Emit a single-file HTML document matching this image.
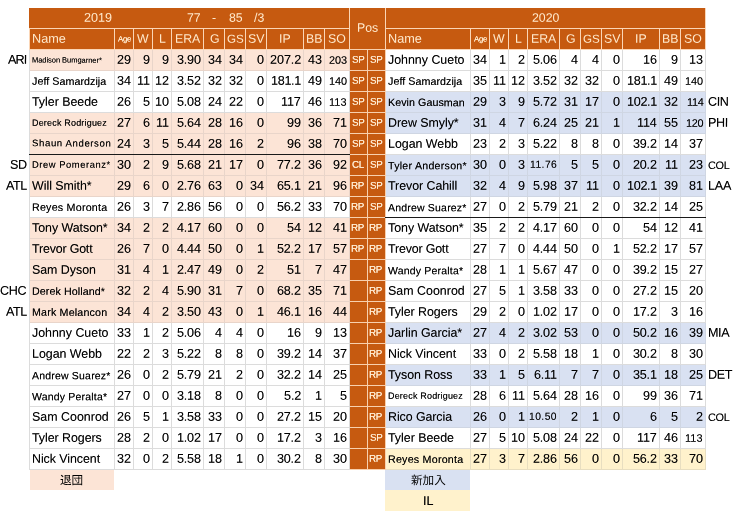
<!DOCTYPE html>
<html lang="en"><head><meta charset="utf-8"><title>Giants pitching staff 2019 / 2020</title>
<style>
html,body{margin:0;padding:0;background:#fff;}
body{width:733px;height:517px;overflow:hidden;position:relative;font-family:"Liberation Sans","Noto Sans CJK JP",sans-serif;font-size:12.6px;color:#000;}
#grid{position:absolute;left:29px;top:49px;width:677px;height:421px;background:#dcdcdc;}
#hgrid{position:absolute;left:29px;top:8px;width:677px;height:42px;background:#fbd6b6;}
#pgrid{position:absolute;left:349px;top:49px;width:37px;height:421px;background:#f8d0ae;}
#s div{position:absolute;box-sizing:border-box;height:20px;line-height:20px;white-space:nowrap;overflow:visible;}
.fw{background:#fff;box-shadow:1px 0 0 #dcdcdc,0 1px 0 #dcdcdc,1px 1px 0 #dcdcdc;}
.fp{background:#FCE4D6;box-shadow:1px 0 0 #e9d5ca,0 1px 0 #e9d5ca,1px 1px 0 #e9d5ca;}
.fb{background:#D9E1F2;box-shadow:1px 0 0 #cfd6e3,0 1px 0 #cfd6e3,1px 1px 0 #cfd6e3;}
.fy{background:#FFF2CC;box-shadow:1px 0 0 #e8dec0,0 1px 0 #e8dec0,1px 1px 0 #e8dec0;}
.fo{background:#C65A10;}
.l{text-align:left;padding-left:2.3px;}
.r{text-align:right;padding-right:2px;}
.t{letter-spacing:-0.4px;}
.d,.t{text-shadow:0 0 0.6px rgba(0,0,0,0.45);}
.k{text-shadow:0 0 0.6px rgba(0,0,0,0.6);}
.u{display:inline-block;transform:translateY(-0.3px) rotate(.1deg);}
.c{text-align:center;}
.h{color:#ffe9cc;font-size:12.3px;}
.p{text-shadow:0 0 0.5px #ffecd2;color:#ffecd2;font-size:9.8px;letter-spacing:-0.3px;padding-right:1.2px;}
.j{font-size:11.6px;font-weight:400;text-shadow:none;}
</style></head>
<body>
<div id="grid"></div><div id="hgrid"></div><div id="pgrid"></div>
<div id="s">
<div class="fo" style="left:29px;top:8px;width:320px;"></div>
<div class="fo" style="left:386px;top:8px;width:319px;"></div>
<div class="c h fo" style="left:350px;top:8px;width:35px;height:41px;line-height:41px;"><span class="u">Pos</span></div>
<div class="c h" style="left:29px;top:8px;width:138px;font-size:12.6px;"><span class="u">2019</span></div>
<div class="r h" style="left:172px;top:8px;width:31px;"><span class="u">77</span></div>
<div class="c h" style="left:204px;top:8px;width:20px;"><span class="u">-</span></div>
<div class="r h" style="left:225px;top:8px;width:20px;"><span class="u">85</span></div>
<div class="r h" style="left:246px;top:8px;width:20px;"><span class="u">/3</span></div>
<div class="c h" style="left:386px;top:8px;width:319px;"><span class="u">2020</span></div>
<div class="l h fo" style="left:30px;top:29px;width:84px;font-size:12.7px;"><span class="u">Name</span></div>
<div class="c h fo" style="left:115px;top:29px;width:18px;font-size:7.8px;padding-left:1.4px;letter-spacing:-0.25px;text-shadow:0 0 0.5px #ffe9cc;"><span class="u" style="transform:translateY(0.40px) rotate(.1deg)">Age</span></div>
<div class="c h fo" style="left:134px;top:29px;width:18px;padding-left:0.6px;"><span class="u">W</span></div>
<div class="c h fo" style="left:153px;top:29px;width:18px;padding-left:0.6px;"><span class="u">L</span></div>
<div class="c h fo" style="left:172px;top:29px;width:31px;padding-left:0.6px;"><span class="u">ERA</span></div>
<div class="c h fo" style="left:204px;top:29px;width:20px;padding-left:0.6px;"><span class="u">G</span></div>
<div class="c h fo" style="left:225px;top:29px;width:20px;font-size:11.6px;padding-left:0.6px;"><span class="u">GS</span></div>
<div class="c h fo" style="left:246px;top:29px;width:20px;padding-left:0.6px;"><span class="u">SV</span></div>
<div class="c h fo" style="left:267px;top:29px;width:36px;padding-left:0.6px;"><span class="u">IP</span></div>
<div class="c h fo" style="left:304px;top:29px;width:20px;padding-left:0.6px;"><span class="u">BB</span></div>
<div class="c h fo" style="left:325px;top:29px;width:24px;padding-left:0.6px;"><span class="u">SO</span></div>
<div class="l h fo" style="left:386px;top:29px;width:84px;font-size:12.7px;"><span class="u">Name</span></div>
<div class="c h fo" style="left:471px;top:29px;width:18px;font-size:7.8px;padding-left:1.4px;letter-spacing:-0.25px;text-shadow:0 0 0.5px #ffe9cc;"><span class="u" style="transform:translateY(0.40px) rotate(.1deg)">Age</span></div>
<div class="c h fo" style="left:490px;top:29px;width:18px;padding-left:0.6px;"><span class="u">W</span></div>
<div class="c h fo" style="left:509px;top:29px;width:18px;padding-left:0.6px;"><span class="u">L</span></div>
<div class="c h fo" style="left:528px;top:29px;width:31px;padding-left:0.6px;"><span class="u">ERA</span></div>
<div class="c h fo" style="left:560px;top:29px;width:20px;padding-left:0.6px;"><span class="u">G</span></div>
<div class="c h fo" style="left:581px;top:29px;width:20px;font-size:11.6px;padding-left:0.6px;"><span class="u">GS</span></div>
<div class="c h fo" style="left:602px;top:29px;width:20px;padding-left:0.6px;"><span class="u">SV</span></div>
<div class="c h fo" style="left:623px;top:29px;width:36px;padding-left:0.6px;"><span class="u">IP</span></div>
<div class="c h fo" style="left:660px;top:29px;width:20px;padding-left:0.6px;"><span class="u">BB</span></div>
<div class="c h fo" style="left:681px;top:29px;width:24px;padding-left:0.6px;"><span class="u">SO</span></div>
<div class="r t" style="left:0px;top:50px;width:26.1px;letter-spacing:-0.900px;padding-right:0;"><span class="u">ARI</span></div>
<div class="l d k fp" style="left:30px;top:50px;width:84px;font-size:7.5px;letter-spacing:-0.038px;"><span class="u" style="transform:translateY(0.60px) rotate(.1deg)">Madison Bumgarner*</span></div>
<div class="r d fp" style="left:115px;top:50px;width:18px;letter-spacing:-0.120px;"><span class="u">29</span></div>
<div class="r d fp" style="left:134px;top:50px;width:18px;"><span class="u">9</span></div>
<div class="r d fp" style="left:153px;top:50px;width:18px;"><span class="u">9</span></div>
<div class="r d fp" style="left:172px;top:50px;width:31px;letter-spacing:-0.200px;"><span class="u">3.90</span></div>
<div class="r d fp" style="left:204px;top:50px;width:20px;letter-spacing:-0.120px;"><span class="u">34</span></div>
<div class="r d fp" style="left:225px;top:50px;width:20px;letter-spacing:-0.120px;"><span class="u">34</span></div>
<div class="r d fp" style="left:246px;top:50px;width:20px;"><span class="u">0</span></div>
<div class="r d fp" style="left:267px;top:50px;width:36px;letter-spacing:-0.050px;"><span class="u">207.2</span></div>
<div class="r d fp" style="left:304px;top:50px;width:20px;letter-spacing:-0.120px;"><span class="u">43</span></div>
<div class="r d fp" style="left:325px;top:50px;width:24px;font-size:10.9px;letter-spacing:0.000px;"><span class="u">203</span></div>
<div class="c p fo" style="left:350px;top:50px;width:17px;"><span class="u" style="transform:translateY(-0.20px) rotate(.1deg)">SP</span></div>
<div class="c p fo" style="left:368px;top:50px;width:17px;"><span class="u" style="transform:translateY(-0.20px) rotate(.1deg)">SP</span></div>
<div class="l d fw" style="left:386px;top:50px;width:84px;font-size:12.4px;letter-spacing:0.003px;"><span class="u">Johnny Cueto</span></div>
<div class="r d fw" style="left:471px;top:50px;width:18px;letter-spacing:-0.120px;"><span class="u">34</span></div>
<div class="r d fw" style="left:490px;top:50px;width:18px;"><span class="u">1</span></div>
<div class="r d fw" style="left:509px;top:50px;width:18px;"><span class="u">2</span></div>
<div class="r d fw" style="left:528px;top:50px;width:31px;letter-spacing:-0.200px;"><span class="u">5.06</span></div>
<div class="r d fw" style="left:560px;top:50px;width:20px;"><span class="u">4</span></div>
<div class="r d fw" style="left:581px;top:50px;width:20px;"><span class="u">4</span></div>
<div class="r d fw" style="left:602px;top:50px;width:20px;"><span class="u">0</span></div>
<div class="r d fw" style="left:623px;top:50px;width:36px;letter-spacing:-0.120px;"><span class="u">16</span></div>
<div class="r d fw" style="left:660px;top:50px;width:20px;"><span class="u">9</span></div>
<div class="r d fw" style="left:681px;top:50px;width:24px;letter-spacing:-0.120px;"><span class="u">13</span></div>
<div class="l d k fw" style="left:30px;top:71px;width:84px;font-size:10.7px;letter-spacing:0.052px;"><span class="u" style="transform:translateY(-0.10px) rotate(.1deg)">Jeff Samardzija</span></div>
<div class="r d fw" style="left:115px;top:71px;width:18px;letter-spacing:-0.120px;"><span class="u">34</span></div>
<div class="r d fw" style="left:134px;top:71px;width:18px;letter-spacing:-0.120px;"><span class="u">11</span></div>
<div class="r d fw" style="left:153px;top:71px;width:18px;letter-spacing:-0.120px;"><span class="u">12</span></div>
<div class="r d fw" style="left:172px;top:71px;width:31px;letter-spacing:-0.200px;"><span class="u">3.52</span></div>
<div class="r d fw" style="left:204px;top:71px;width:20px;letter-spacing:-0.120px;"><span class="u">32</span></div>
<div class="r d fw" style="left:225px;top:71px;width:20px;letter-spacing:-0.120px;"><span class="u">32</span></div>
<div class="r d fw" style="left:246px;top:71px;width:20px;"><span class="u">0</span></div>
<div class="r d fw" style="left:267px;top:71px;width:36px;letter-spacing:-0.300px;"><span class="u">181.1</span></div>
<div class="r d fw" style="left:304px;top:71px;width:20px;letter-spacing:-0.120px;"><span class="u">49</span></div>
<div class="r d fw" style="left:325px;top:71px;width:24px;font-size:10.9px;letter-spacing:0.000px;"><span class="u">140</span></div>
<div class="c p fo" style="left:350px;top:71px;width:17px;"><span class="u" style="transform:translateY(-0.20px) rotate(.1deg)">SP</span></div>
<div class="c p fo" style="left:368px;top:71px;width:17px;"><span class="u" style="transform:translateY(-0.20px) rotate(.1deg)">SP</span></div>
<div class="l d k fw" style="left:386px;top:71px;width:84px;font-size:10.7px;letter-spacing:0.052px;"><span class="u" style="transform:translateY(-0.10px) rotate(.1deg)">Jeff Samardzija</span></div>
<div class="r d fw" style="left:471px;top:71px;width:18px;letter-spacing:-0.120px;"><span class="u">35</span></div>
<div class="r d fw" style="left:490px;top:71px;width:18px;letter-spacing:-0.120px;"><span class="u">11</span></div>
<div class="r d fw" style="left:509px;top:71px;width:18px;letter-spacing:-0.120px;"><span class="u">12</span></div>
<div class="r d fw" style="left:528px;top:71px;width:31px;letter-spacing:-0.200px;"><span class="u">3.52</span></div>
<div class="r d fw" style="left:560px;top:71px;width:20px;letter-spacing:-0.120px;"><span class="u">32</span></div>
<div class="r d fw" style="left:581px;top:71px;width:20px;letter-spacing:-0.120px;"><span class="u">32</span></div>
<div class="r d fw" style="left:602px;top:71px;width:20px;"><span class="u">0</span></div>
<div class="r d fw" style="left:623px;top:71px;width:36px;letter-spacing:-0.300px;"><span class="u">181.1</span></div>
<div class="r d fw" style="left:660px;top:71px;width:20px;letter-spacing:-0.120px;"><span class="u">49</span></div>
<div class="r d fw" style="left:681px;top:71px;width:24px;font-size:10.9px;letter-spacing:0.000px;"><span class="u">140</span></div>
<div class="l d fw" style="left:30px;top:92px;width:84px;font-size:12.4px;letter-spacing:-0.013px;"><span class="u">Tyler Beede</span></div>
<div class="r d fw" style="left:115px;top:92px;width:18px;letter-spacing:-0.120px;"><span class="u">26</span></div>
<div class="r d fw" style="left:134px;top:92px;width:18px;"><span class="u">5</span></div>
<div class="r d fw" style="left:153px;top:92px;width:18px;letter-spacing:-0.120px;"><span class="u">10</span></div>
<div class="r d fw" style="left:172px;top:92px;width:31px;letter-spacing:-0.200px;"><span class="u">5.08</span></div>
<div class="r d fw" style="left:204px;top:92px;width:20px;letter-spacing:-0.120px;"><span class="u">24</span></div>
<div class="r d fw" style="left:225px;top:92px;width:20px;letter-spacing:-0.120px;"><span class="u">22</span></div>
<div class="r d fw" style="left:246px;top:92px;width:20px;"><span class="u">0</span></div>
<div class="r d fw" style="left:267px;top:92px;width:36px;letter-spacing:-0.120px;"><span class="u">117</span></div>
<div class="r d fw" style="left:304px;top:92px;width:20px;letter-spacing:-0.120px;"><span class="u">46</span></div>
<div class="r d fw" style="left:325px;top:92px;width:24px;font-size:10.9px;letter-spacing:0.100px;"><span class="u">113</span></div>
<div class="c p fo" style="left:350px;top:92px;width:17px;"><span class="u" style="transform:translateY(-0.20px) rotate(.1deg)">SP</span></div>
<div class="c p fo" style="left:368px;top:92px;width:17px;"><span class="u" style="transform:translateY(-0.20px) rotate(.1deg)">SP</span></div>
<div class="l d k fb" style="left:386px;top:92px;width:84px;font-size:10.7px;letter-spacing:0.063px;"><span class="u" style="transform:translateY(0.10px) rotate(.1deg)">Kevin Gausman</span></div>
<div class="r d fb" style="left:471px;top:92px;width:18px;letter-spacing:-0.120px;"><span class="u">29</span></div>
<div class="r d fb" style="left:490px;top:92px;width:18px;"><span class="u">3</span></div>
<div class="r d fb" style="left:509px;top:92px;width:18px;"><span class="u">9</span></div>
<div class="r d fb" style="left:528px;top:92px;width:31px;letter-spacing:-0.200px;"><span class="u">5.72</span></div>
<div class="r d fb" style="left:560px;top:92px;width:20px;letter-spacing:-0.120px;"><span class="u">31</span></div>
<div class="r d fb" style="left:581px;top:92px;width:20px;letter-spacing:-0.120px;"><span class="u">17</span></div>
<div class="r d fb" style="left:602px;top:92px;width:20px;"><span class="u">0</span></div>
<div class="r d fb" style="left:623px;top:92px;width:36px;letter-spacing:-0.300px;"><span class="u">102.1</span></div>
<div class="r d fb" style="left:660px;top:92px;width:20px;letter-spacing:-0.120px;"><span class="u">32</span></div>
<div class="r d fb" style="left:681px;top:92px;width:24px;font-size:10.9px;letter-spacing:-0.300px;"><span class="u">114</span></div>
<div class="l t" style="left:708.3px;top:92px;width:26px;padding-left:0;"><span class="u">CIN</span></div>
<div class="l d k fp" style="left:30px;top:113px;width:84px;font-size:9.0px;letter-spacing:0.185px;"><span class="u">Dereck Rodriguez</span></div>
<div class="r d fp" style="left:115px;top:113px;width:18px;letter-spacing:-0.120px;"><span class="u">27</span></div>
<div class="r d fp" style="left:134px;top:113px;width:18px;"><span class="u">6</span></div>
<div class="r d fp" style="left:153px;top:113px;width:18px;letter-spacing:-0.120px;"><span class="u">11</span></div>
<div class="r d fp" style="left:172px;top:113px;width:31px;letter-spacing:-0.200px;"><span class="u">5.64</span></div>
<div class="r d fp" style="left:204px;top:113px;width:20px;letter-spacing:-0.120px;"><span class="u">28</span></div>
<div class="r d fp" style="left:225px;top:113px;width:20px;letter-spacing:-0.120px;"><span class="u">16</span></div>
<div class="r d fp" style="left:246px;top:113px;width:20px;"><span class="u">0</span></div>
<div class="r d fp" style="left:267px;top:113px;width:36px;letter-spacing:-0.120px;"><span class="u">99</span></div>
<div class="r d fp" style="left:304px;top:113px;width:20px;letter-spacing:-0.120px;"><span class="u">36</span></div>
<div class="r d fp" style="left:325px;top:113px;width:24px;letter-spacing:-0.120px;"><span class="u">71</span></div>
<div class="c p fo" style="left:350px;top:113px;width:17px;"><span class="u" style="transform:translateY(-0.20px) rotate(.1deg)">SP</span></div>
<div class="c p fo" style="left:368px;top:113px;width:17px;"><span class="u" style="transform:translateY(-0.20px) rotate(.1deg)">SP</span></div>
<div class="l d fb" style="left:386px;top:113px;width:84px;font-size:12.4px;letter-spacing:-0.022px;"><span class="u">Drew Smyly*</span></div>
<div class="r d fb" style="left:471px;top:113px;width:18px;letter-spacing:-0.120px;"><span class="u">31</span></div>
<div class="r d fb" style="left:490px;top:113px;width:18px;"><span class="u">4</span></div>
<div class="r d fb" style="left:509px;top:113px;width:18px;"><span class="u">7</span></div>
<div class="r d fb" style="left:528px;top:113px;width:31px;letter-spacing:-0.200px;"><span class="u">6.24</span></div>
<div class="r d fb" style="left:560px;top:113px;width:20px;letter-spacing:-0.120px;"><span class="u">25</span></div>
<div class="r d fb" style="left:581px;top:113px;width:20px;letter-spacing:-0.120px;"><span class="u">21</span></div>
<div class="r d fb" style="left:602px;top:113px;width:20px;"><span class="u">1</span></div>
<div class="r d fb" style="left:623px;top:113px;width:36px;letter-spacing:-0.120px;"><span class="u">114</span></div>
<div class="r d fb" style="left:660px;top:113px;width:20px;letter-spacing:-0.120px;"><span class="u">55</span></div>
<div class="r d fb" style="left:681px;top:113px;width:24px;font-size:10.9px;letter-spacing:-0.300px;"><span class="u">120</span></div>
<div class="l t" style="left:708.3px;top:113px;width:26px;padding-left:0;"><span class="u">PHI</span></div>
<div class="l d k fp" style="left:30px;top:134px;width:84px;font-size:9.6px;letter-spacing:0.604px;"><span class="u" style="transform:translateY(-0.60px) rotate(.1deg)">Shaun Anderson</span></div>
<div class="r d fp" style="left:115px;top:134px;width:18px;letter-spacing:-0.120px;"><span class="u">24</span></div>
<div class="r d fp" style="left:134px;top:134px;width:18px;"><span class="u">3</span></div>
<div class="r d fp" style="left:153px;top:134px;width:18px;"><span class="u">5</span></div>
<div class="r d fp" style="left:172px;top:134px;width:31px;letter-spacing:-0.200px;"><span class="u">5.44</span></div>
<div class="r d fp" style="left:204px;top:134px;width:20px;letter-spacing:-0.120px;"><span class="u">28</span></div>
<div class="r d fp" style="left:225px;top:134px;width:20px;letter-spacing:-0.120px;"><span class="u">16</span></div>
<div class="r d fp" style="left:246px;top:134px;width:20px;"><span class="u">2</span></div>
<div class="r d fp" style="left:267px;top:134px;width:36px;letter-spacing:-0.120px;"><span class="u">96</span></div>
<div class="r d fp" style="left:304px;top:134px;width:20px;letter-spacing:-0.120px;"><span class="u">38</span></div>
<div class="r d fp" style="left:325px;top:134px;width:24px;letter-spacing:-0.120px;"><span class="u">70</span></div>
<div class="c p fo" style="left:350px;top:134px;width:17px;"><span class="u" style="transform:translateY(-0.20px) rotate(.1deg)">SP</span></div>
<div class="c p fo" style="left:368px;top:134px;width:17px;"><span class="u" style="transform:translateY(-0.20px) rotate(.1deg)">SP</span></div>
<div class="l d fw" style="left:386px;top:134px;width:84px;font-size:12.4px;letter-spacing:-0.005px;"><span class="u">Logan Webb</span></div>
<div class="r d fw" style="left:471px;top:134px;width:18px;letter-spacing:-0.120px;"><span class="u">23</span></div>
<div class="r d fw" style="left:490px;top:134px;width:18px;"><span class="u">2</span></div>
<div class="r d fw" style="left:509px;top:134px;width:18px;"><span class="u">3</span></div>
<div class="r d fw" style="left:528px;top:134px;width:31px;letter-spacing:-0.200px;"><span class="u">5.22</span></div>
<div class="r d fw" style="left:560px;top:134px;width:20px;"><span class="u">8</span></div>
<div class="r d fw" style="left:581px;top:134px;width:20px;"><span class="u">8</span></div>
<div class="r d fw" style="left:602px;top:134px;width:20px;"><span class="u">0</span></div>
<div class="r d fw" style="left:623px;top:134px;width:36px;letter-spacing:-0.200px;"><span class="u">39.2</span></div>
<div class="r d fw" style="left:660px;top:134px;width:20px;letter-spacing:-0.120px;"><span class="u">14</span></div>
<div class="r d fw" style="left:681px;top:134px;width:24px;letter-spacing:-0.120px;"><span class="u">37</span></div>
<div class="r t" style="left:0px;top:155px;width:26.5px;padding-right:0;"><span class="u">SD</span></div>
<div class="l d k fp" style="left:30px;top:155px;width:84px;font-size:9.4px;letter-spacing:0.557px;"><span class="u" style="transform:translateY(-0.29px) rotate(.1deg)">Drew Pomeranz*</span></div>
<div class="r d fp" style="left:115px;top:155px;width:18px;letter-spacing:-0.120px;"><span class="u">30</span></div>
<div class="r d fp" style="left:134px;top:155px;width:18px;"><span class="u">2</span></div>
<div class="r d fp" style="left:153px;top:155px;width:18px;"><span class="u">9</span></div>
<div class="r d fp" style="left:172px;top:155px;width:31px;letter-spacing:-0.200px;"><span class="u">5.68</span></div>
<div class="r d fp" style="left:204px;top:155px;width:20px;letter-spacing:-0.120px;"><span class="u">21</span></div>
<div class="r d fp" style="left:225px;top:155px;width:20px;letter-spacing:-0.120px;"><span class="u">17</span></div>
<div class="r d fp" style="left:246px;top:155px;width:20px;"><span class="u">0</span></div>
<div class="r d fp" style="left:267px;top:155px;width:36px;letter-spacing:-0.200px;"><span class="u">77.2</span></div>
<div class="r d fp" style="left:304px;top:155px;width:20px;letter-spacing:-0.120px;"><span class="u">36</span></div>
<div class="r d fp" style="left:325px;top:155px;width:24px;letter-spacing:-0.120px;"><span class="u">92</span></div>
<div class="c p fo" style="left:350px;top:155px;width:17px;"><span class="u" style="transform:translateY(-0.20px) rotate(.1deg)">CL</span></div>
<div class="c p fo" style="left:368px;top:155px;width:17px;"><span class="u" style="transform:translateY(-0.20px) rotate(.1deg)">SP</span></div>
<div class="l d k fb" style="left:386px;top:155px;width:84px;font-size:10.6px;letter-spacing:0.272px;"><span class="u" style="transform:translateY(0.20px) rotate(.1deg)">Tyler Anderson*</span></div>
<div class="r d fb" style="left:471px;top:155px;width:18px;letter-spacing:-0.120px;"><span class="u">30</span></div>
<div class="r d fb" style="left:490px;top:155px;width:18px;"><span class="u">0</span></div>
<div class="r d fb" style="left:509px;top:155px;width:18px;"><span class="u">3</span></div>
<div class="r d fb" style="left:528px;top:155px;width:31px;font-size:10.3px;letter-spacing:0.450px;padding-right:1.5px;"><span class="u">11.76</span></div>
<div class="r d fb" style="left:560px;top:155px;width:20px;"><span class="u">5</span></div>
<div class="r d fb" style="left:581px;top:155px;width:20px;"><span class="u">5</span></div>
<div class="r d fb" style="left:602px;top:155px;width:20px;"><span class="u">0</span></div>
<div class="r d fb" style="left:623px;top:155px;width:36px;letter-spacing:-0.200px;"><span class="u">20.2</span></div>
<div class="r d fb" style="left:660px;top:155px;width:20px;letter-spacing:-0.120px;"><span class="u">11</span></div>
<div class="r d fb" style="left:681px;top:155px;width:24px;letter-spacing:-0.120px;"><span class="u">23</span></div>
<div class="l t" style="left:708.3px;top:155px;width:26px;font-size:10.9px;letter-spacing:-0.250px;padding-left:0;"><span class="u" style="transform:translateY(0.00px) rotate(.1deg)">COL</span></div>
<div class="r t" style="left:0px;top:176px;width:26.5px;padding-right:0;"><span class="u">ATL</span></div>
<div class="l d fp" style="left:30px;top:176px;width:84px;font-size:12.4px;letter-spacing:-0.019px;"><span class="u">Will Smith*</span></div>
<div class="r d fp" style="left:115px;top:176px;width:18px;letter-spacing:-0.120px;"><span class="u">29</span></div>
<div class="r d fp" style="left:134px;top:176px;width:18px;"><span class="u">6</span></div>
<div class="r d fp" style="left:153px;top:176px;width:18px;"><span class="u">0</span></div>
<div class="r d fp" style="left:172px;top:176px;width:31px;letter-spacing:-0.200px;"><span class="u">2.76</span></div>
<div class="r d fp" style="left:204px;top:176px;width:20px;letter-spacing:-0.120px;"><span class="u">63</span></div>
<div class="r d fp" style="left:225px;top:176px;width:20px;"><span class="u">0</span></div>
<div class="r d fp" style="left:246px;top:176px;width:20px;letter-spacing:-0.120px;"><span class="u">34</span></div>
<div class="r d fp" style="left:267px;top:176px;width:36px;letter-spacing:-0.200px;"><span class="u">65.1</span></div>
<div class="r d fp" style="left:304px;top:176px;width:20px;letter-spacing:-0.120px;"><span class="u">21</span></div>
<div class="r d fp" style="left:325px;top:176px;width:24px;letter-spacing:-0.120px;"><span class="u">96</span></div>
<div class="c p fo" style="left:350px;top:176px;width:17px;"><span class="u" style="transform:translateY(-0.20px) rotate(.1deg)">RP</span></div>
<div class="c p fo" style="left:368px;top:176px;width:17px;"><span class="u" style="transform:translateY(-0.20px) rotate(.1deg)">SP</span></div>
<div class="l d fb" style="left:386px;top:176px;width:84px;font-size:12.4px;letter-spacing:-0.040px;"><span class="u">Trevor Cahill</span></div>
<div class="r d fb" style="left:471px;top:176px;width:18px;letter-spacing:-0.120px;"><span class="u">32</span></div>
<div class="r d fb" style="left:490px;top:176px;width:18px;"><span class="u">4</span></div>
<div class="r d fb" style="left:509px;top:176px;width:18px;"><span class="u">9</span></div>
<div class="r d fb" style="left:528px;top:176px;width:31px;letter-spacing:-0.200px;"><span class="u">5.98</span></div>
<div class="r d fb" style="left:560px;top:176px;width:20px;letter-spacing:-0.120px;"><span class="u">37</span></div>
<div class="r d fb" style="left:581px;top:176px;width:20px;letter-spacing:-0.120px;"><span class="u">11</span></div>
<div class="r d fb" style="left:602px;top:176px;width:20px;"><span class="u">0</span></div>
<div class="r d fb" style="left:623px;top:176px;width:36px;letter-spacing:-0.300px;"><span class="u">102.1</span></div>
<div class="r d fb" style="left:660px;top:176px;width:20px;letter-spacing:-0.120px;"><span class="u">39</span></div>
<div class="r d fb" style="left:681px;top:176px;width:24px;letter-spacing:-0.120px;"><span class="u">81</span></div>
<div class="l t" style="left:708.3px;top:176px;width:26px;letter-spacing:-0.200px;padding-left:0;"><span class="u">LAA</span></div>
<div class="l d k fw" style="left:30px;top:197px;width:84px;font-size:10.7px;letter-spacing:0.226px;"><span class="u" style="transform:translateY(-0.10px) rotate(.1deg)">Reyes Moronta</span></div>
<div class="r d fw" style="left:115px;top:197px;width:18px;letter-spacing:-0.120px;"><span class="u">26</span></div>
<div class="r d fw" style="left:134px;top:197px;width:18px;"><span class="u">3</span></div>
<div class="r d fw" style="left:153px;top:197px;width:18px;"><span class="u">7</span></div>
<div class="r d fw" style="left:172px;top:197px;width:31px;letter-spacing:-0.200px;"><span class="u">2.86</span></div>
<div class="r d fw" style="left:204px;top:197px;width:20px;letter-spacing:-0.120px;"><span class="u">56</span></div>
<div class="r d fw" style="left:225px;top:197px;width:20px;"><span class="u">0</span></div>
<div class="r d fw" style="left:246px;top:197px;width:20px;"><span class="u">0</span></div>
<div class="r d fw" style="left:267px;top:197px;width:36px;letter-spacing:-0.200px;"><span class="u">56.2</span></div>
<div class="r d fw" style="left:304px;top:197px;width:20px;letter-spacing:-0.120px;"><span class="u">33</span></div>
<div class="r d fw" style="left:325px;top:197px;width:24px;letter-spacing:-0.120px;"><span class="u">70</span></div>
<div class="c p fo" style="left:350px;top:197px;width:17px;"><span class="u" style="transform:translateY(-0.20px) rotate(.1deg)">RP</span></div>
<div class="c p fo" style="left:368px;top:197px;width:17px;"><span class="u" style="transform:translateY(-0.20px) rotate(.1deg)">SP</span></div>
<div class="l d k fw" style="left:386px;top:197px;width:84px;font-size:10.5px;letter-spacing:0.194px;"><span class="u" style="transform:translateY(0.30px) rotate(.1deg)">Andrew Suarez*</span></div>
<div class="r d fw" style="left:471px;top:197px;width:18px;letter-spacing:-0.120px;"><span class="u">27</span></div>
<div class="r d fw" style="left:490px;top:197px;width:18px;"><span class="u">0</span></div>
<div class="r d fw" style="left:509px;top:197px;width:18px;"><span class="u">2</span></div>
<div class="r d fw" style="left:528px;top:197px;width:31px;letter-spacing:-0.200px;"><span class="u">5.79</span></div>
<div class="r d fw" style="left:560px;top:197px;width:20px;letter-spacing:-0.120px;"><span class="u">21</span></div>
<div class="r d fw" style="left:581px;top:197px;width:20px;"><span class="u">2</span></div>
<div class="r d fw" style="left:602px;top:197px;width:20px;"><span class="u">0</span></div>
<div class="r d fw" style="left:623px;top:197px;width:36px;letter-spacing:-0.200px;"><span class="u">32.2</span></div>
<div class="r d fw" style="left:660px;top:197px;width:20px;letter-spacing:-0.120px;"><span class="u">14</span></div>
<div class="r d fw" style="left:681px;top:197px;width:24px;letter-spacing:-0.120px;"><span class="u">25</span></div>
<div class="l d fp" style="left:30px;top:218px;width:84px;font-size:12.4px;letter-spacing:-0.026px;"><span class="u">Tony Watson*</span></div>
<div class="r d fp" style="left:115px;top:218px;width:18px;letter-spacing:-0.120px;"><span class="u">34</span></div>
<div class="r d fp" style="left:134px;top:218px;width:18px;"><span class="u">2</span></div>
<div class="r d fp" style="left:153px;top:218px;width:18px;"><span class="u">2</span></div>
<div class="r d fp" style="left:172px;top:218px;width:31px;letter-spacing:-0.200px;"><span class="u">4.17</span></div>
<div class="r d fp" style="left:204px;top:218px;width:20px;letter-spacing:-0.120px;"><span class="u">60</span></div>
<div class="r d fp" style="left:225px;top:218px;width:20px;"><span class="u">0</span></div>
<div class="r d fp" style="left:246px;top:218px;width:20px;"><span class="u">0</span></div>
<div class="r d fp" style="left:267px;top:218px;width:36px;letter-spacing:-0.120px;"><span class="u">54</span></div>
<div class="r d fp" style="left:304px;top:218px;width:20px;letter-spacing:-0.120px;"><span class="u">12</span></div>
<div class="r d fp" style="left:325px;top:218px;width:24px;letter-spacing:-0.120px;"><span class="u">41</span></div>
<div class="c p fo" style="left:350px;top:218px;width:17px;"><span class="u" style="transform:translateY(-0.20px) rotate(.1deg)">RP</span></div>
<div class="c p fo" style="left:368px;top:218px;width:17px;"><span class="u" style="transform:translateY(-0.20px) rotate(.1deg)">RP</span></div>
<div class="l d fw" style="left:386px;top:218px;width:84px;font-size:12.4px;letter-spacing:-0.026px;"><span class="u">Tony Watson*</span></div>
<div class="r d fw" style="left:471px;top:218px;width:18px;letter-spacing:-0.120px;"><span class="u">35</span></div>
<div class="r d fw" style="left:490px;top:218px;width:18px;"><span class="u">2</span></div>
<div class="r d fw" style="left:509px;top:218px;width:18px;"><span class="u">2</span></div>
<div class="r d fw" style="left:528px;top:218px;width:31px;letter-spacing:-0.200px;"><span class="u">4.17</span></div>
<div class="r d fw" style="left:560px;top:218px;width:20px;letter-spacing:-0.120px;"><span class="u">60</span></div>
<div class="r d fw" style="left:581px;top:218px;width:20px;"><span class="u">0</span></div>
<div class="r d fw" style="left:602px;top:218px;width:20px;"><span class="u">0</span></div>
<div class="r d fw" style="left:623px;top:218px;width:36px;letter-spacing:-0.120px;"><span class="u">54</span></div>
<div class="r d fw" style="left:660px;top:218px;width:20px;letter-spacing:-0.120px;"><span class="u">12</span></div>
<div class="r d fw" style="left:681px;top:218px;width:24px;letter-spacing:-0.120px;"><span class="u">41</span></div>
<div class="l d fp" style="left:30px;top:239px;width:84px;font-size:12.4px;letter-spacing:-0.160px;"><span class="u">Trevor Gott</span></div>
<div class="r d fp" style="left:115px;top:239px;width:18px;letter-spacing:-0.120px;"><span class="u">26</span></div>
<div class="r d fp" style="left:134px;top:239px;width:18px;"><span class="u">7</span></div>
<div class="r d fp" style="left:153px;top:239px;width:18px;"><span class="u">0</span></div>
<div class="r d fp" style="left:172px;top:239px;width:31px;letter-spacing:-0.200px;"><span class="u">4.44</span></div>
<div class="r d fp" style="left:204px;top:239px;width:20px;letter-spacing:-0.120px;"><span class="u">50</span></div>
<div class="r d fp" style="left:225px;top:239px;width:20px;"><span class="u">0</span></div>
<div class="r d fp" style="left:246px;top:239px;width:20px;"><span class="u">1</span></div>
<div class="r d fp" style="left:267px;top:239px;width:36px;letter-spacing:-0.200px;"><span class="u">52.2</span></div>
<div class="r d fp" style="left:304px;top:239px;width:20px;letter-spacing:-0.120px;"><span class="u">17</span></div>
<div class="r d fp" style="left:325px;top:239px;width:24px;letter-spacing:-0.120px;"><span class="u">57</span></div>
<div class="c p fo" style="left:350px;top:239px;width:17px;"><span class="u" style="transform:translateY(-0.20px) rotate(.1deg)">RP</span></div>
<div class="c p fo" style="left:368px;top:239px;width:17px;"><span class="u" style="transform:translateY(-0.20px) rotate(.1deg)">RP</span></div>
<div class="l d fw" style="left:386px;top:239px;width:84px;font-size:12.4px;letter-spacing:-0.160px;"><span class="u">Trevor Gott</span></div>
<div class="r d fw" style="left:471px;top:239px;width:18px;letter-spacing:-0.120px;"><span class="u">27</span></div>
<div class="r d fw" style="left:490px;top:239px;width:18px;"><span class="u">7</span></div>
<div class="r d fw" style="left:509px;top:239px;width:18px;"><span class="u">0</span></div>
<div class="r d fw" style="left:528px;top:239px;width:31px;letter-spacing:-0.200px;"><span class="u">4.44</span></div>
<div class="r d fw" style="left:560px;top:239px;width:20px;letter-spacing:-0.120px;"><span class="u">50</span></div>
<div class="r d fw" style="left:581px;top:239px;width:20px;"><span class="u">0</span></div>
<div class="r d fw" style="left:602px;top:239px;width:20px;"><span class="u">1</span></div>
<div class="r d fw" style="left:623px;top:239px;width:36px;letter-spacing:-0.200px;"><span class="u">52.2</span></div>
<div class="r d fw" style="left:660px;top:239px;width:20px;letter-spacing:-0.120px;"><span class="u">17</span></div>
<div class="r d fw" style="left:681px;top:239px;width:24px;letter-spacing:-0.120px;"><span class="u">57</span></div>
<div class="l d fp" style="left:30px;top:260px;width:84px;font-size:12.4px;letter-spacing:-0.012px;"><span class="u">Sam Dyson</span></div>
<div class="r d fp" style="left:115px;top:260px;width:18px;letter-spacing:-0.120px;"><span class="u">31</span></div>
<div class="r d fp" style="left:134px;top:260px;width:18px;"><span class="u">4</span></div>
<div class="r d fp" style="left:153px;top:260px;width:18px;"><span class="u">1</span></div>
<div class="r d fp" style="left:172px;top:260px;width:31px;letter-spacing:-0.200px;"><span class="u">2.47</span></div>
<div class="r d fp" style="left:204px;top:260px;width:20px;letter-spacing:-0.120px;"><span class="u">49</span></div>
<div class="r d fp" style="left:225px;top:260px;width:20px;"><span class="u">0</span></div>
<div class="r d fp" style="left:246px;top:260px;width:20px;"><span class="u">2</span></div>
<div class="r d fp" style="left:267px;top:260px;width:36px;letter-spacing:-0.120px;"><span class="u">51</span></div>
<div class="r d fp" style="left:304px;top:260px;width:20px;"><span class="u">7</span></div>
<div class="r d fp" style="left:325px;top:260px;width:24px;letter-spacing:-0.120px;"><span class="u">47</span></div>
<div class="c p fo" style="left:350px;top:260px;width:17px;"></div>
<div class="c p fo" style="left:368px;top:260px;width:17px;"><span class="u" style="transform:translateY(-0.20px) rotate(.1deg)">RP</span></div>
<div class="l d k fw" style="left:386px;top:260px;width:84px;font-size:10.5px;letter-spacing:0.195px;"><span class="u" style="transform:translateY(0.20px) rotate(.1deg)">Wandy Peralta*</span></div>
<div class="r d fw" style="left:471px;top:260px;width:18px;letter-spacing:-0.120px;"><span class="u">28</span></div>
<div class="r d fw" style="left:490px;top:260px;width:18px;"><span class="u">1</span></div>
<div class="r d fw" style="left:509px;top:260px;width:18px;"><span class="u">1</span></div>
<div class="r d fw" style="left:528px;top:260px;width:31px;letter-spacing:-0.200px;"><span class="u">5.67</span></div>
<div class="r d fw" style="left:560px;top:260px;width:20px;letter-spacing:-0.120px;"><span class="u">47</span></div>
<div class="r d fw" style="left:581px;top:260px;width:20px;"><span class="u">0</span></div>
<div class="r d fw" style="left:602px;top:260px;width:20px;"><span class="u">0</span></div>
<div class="r d fw" style="left:623px;top:260px;width:36px;letter-spacing:-0.200px;"><span class="u">39.2</span></div>
<div class="r d fw" style="left:660px;top:260px;width:20px;letter-spacing:-0.120px;"><span class="u">15</span></div>
<div class="r d fw" style="left:681px;top:260px;width:24px;letter-spacing:-0.120px;"><span class="u">27</span></div>
<div class="r t" style="left:0px;top:281px;width:26.5px;padding-right:0;"><span class="u">CHC</span></div>
<div class="l d k fp" style="left:30px;top:281px;width:84px;font-size:10.7px;letter-spacing:0.081px;"><span class="u" style="transform:translateY(-0.10px) rotate(.1deg)">Derek Holland*</span></div>
<div class="r d fp" style="left:115px;top:281px;width:18px;letter-spacing:-0.120px;"><span class="u">32</span></div>
<div class="r d fp" style="left:134px;top:281px;width:18px;"><span class="u">2</span></div>
<div class="r d fp" style="left:153px;top:281px;width:18px;"><span class="u">4</span></div>
<div class="r d fp" style="left:172px;top:281px;width:31px;letter-spacing:-0.200px;"><span class="u">5.90</span></div>
<div class="r d fp" style="left:204px;top:281px;width:20px;letter-spacing:-0.120px;"><span class="u">31</span></div>
<div class="r d fp" style="left:225px;top:281px;width:20px;"><span class="u">7</span></div>
<div class="r d fp" style="left:246px;top:281px;width:20px;"><span class="u">0</span></div>
<div class="r d fp" style="left:267px;top:281px;width:36px;letter-spacing:-0.200px;"><span class="u">68.2</span></div>
<div class="r d fp" style="left:304px;top:281px;width:20px;letter-spacing:-0.120px;"><span class="u">35</span></div>
<div class="r d fp" style="left:325px;top:281px;width:24px;letter-spacing:-0.120px;"><span class="u">71</span></div>
<div class="c p fo" style="left:350px;top:281px;width:17px;"></div>
<div class="c p fo" style="left:368px;top:281px;width:17px;"><span class="u" style="transform:translateY(-0.20px) rotate(.1deg)">RP</span></div>
<div class="l d fw" style="left:386px;top:281px;width:84px;font-size:12.4px;letter-spacing:0.025px;"><span class="u">Sam Coonrod</span></div>
<div class="r d fw" style="left:471px;top:281px;width:18px;letter-spacing:-0.120px;"><span class="u">27</span></div>
<div class="r d fw" style="left:490px;top:281px;width:18px;"><span class="u">5</span></div>
<div class="r d fw" style="left:509px;top:281px;width:18px;"><span class="u">1</span></div>
<div class="r d fw" style="left:528px;top:281px;width:31px;letter-spacing:-0.200px;"><span class="u">3.58</span></div>
<div class="r d fw" style="left:560px;top:281px;width:20px;letter-spacing:-0.120px;"><span class="u">33</span></div>
<div class="r d fw" style="left:581px;top:281px;width:20px;"><span class="u">0</span></div>
<div class="r d fw" style="left:602px;top:281px;width:20px;"><span class="u">0</span></div>
<div class="r d fw" style="left:623px;top:281px;width:36px;letter-spacing:-0.200px;"><span class="u">27.2</span></div>
<div class="r d fw" style="left:660px;top:281px;width:20px;letter-spacing:-0.120px;"><span class="u">15</span></div>
<div class="r d fw" style="left:681px;top:281px;width:24px;letter-spacing:-0.120px;"><span class="u">20</span></div>
<div class="r t" style="left:0px;top:302px;width:26.5px;padding-right:0;"><span class="u">ATL</span></div>
<div class="l d k fp" style="left:30px;top:302px;width:84px;font-size:10.7px;letter-spacing:0.178px;"><span class="u" style="transform:translateY(-0.10px) rotate(.1deg)">Mark Melancon</span></div>
<div class="r d fp" style="left:115px;top:302px;width:18px;letter-spacing:-0.120px;"><span class="u">34</span></div>
<div class="r d fp" style="left:134px;top:302px;width:18px;"><span class="u">4</span></div>
<div class="r d fp" style="left:153px;top:302px;width:18px;"><span class="u">2</span></div>
<div class="r d fp" style="left:172px;top:302px;width:31px;letter-spacing:-0.200px;"><span class="u">3.50</span></div>
<div class="r d fp" style="left:204px;top:302px;width:20px;letter-spacing:-0.120px;"><span class="u">43</span></div>
<div class="r d fp" style="left:225px;top:302px;width:20px;"><span class="u">0</span></div>
<div class="r d fp" style="left:246px;top:302px;width:20px;"><span class="u">1</span></div>
<div class="r d fp" style="left:267px;top:302px;width:36px;letter-spacing:-0.200px;"><span class="u">46.1</span></div>
<div class="r d fp" style="left:304px;top:302px;width:20px;letter-spacing:-0.120px;"><span class="u">16</span></div>
<div class="r d fp" style="left:325px;top:302px;width:24px;letter-spacing:-0.120px;"><span class="u">44</span></div>
<div class="c p fo" style="left:350px;top:302px;width:17px;"></div>
<div class="c p fo" style="left:368px;top:302px;width:17px;"><span class="u" style="transform:translateY(-0.20px) rotate(.1deg)">RP</span></div>
<div class="l d fw" style="left:386px;top:302px;width:84px;font-size:12.4px;letter-spacing:-0.041px;"><span class="u">Tyler Rogers</span></div>
<div class="r d fw" style="left:471px;top:302px;width:18px;letter-spacing:-0.120px;"><span class="u">29</span></div>
<div class="r d fw" style="left:490px;top:302px;width:18px;"><span class="u">2</span></div>
<div class="r d fw" style="left:509px;top:302px;width:18px;"><span class="u">0</span></div>
<div class="r d fw" style="left:528px;top:302px;width:31px;letter-spacing:-0.200px;"><span class="u">1.02</span></div>
<div class="r d fw" style="left:560px;top:302px;width:20px;letter-spacing:-0.120px;"><span class="u">17</span></div>
<div class="r d fw" style="left:581px;top:302px;width:20px;"><span class="u">0</span></div>
<div class="r d fw" style="left:602px;top:302px;width:20px;"><span class="u">0</span></div>
<div class="r d fw" style="left:623px;top:302px;width:36px;letter-spacing:-0.200px;"><span class="u">17.2</span></div>
<div class="r d fw" style="left:660px;top:302px;width:20px;"><span class="u">3</span></div>
<div class="r d fw" style="left:681px;top:302px;width:24px;letter-spacing:-0.120px;"><span class="u">16</span></div>
<div class="l d fw" style="left:30px;top:323px;width:84px;font-size:12.4px;letter-spacing:0.003px;"><span class="u">Johnny Cueto</span></div>
<div class="r d fw" style="left:115px;top:323px;width:18px;letter-spacing:-0.120px;"><span class="u">33</span></div>
<div class="r d fw" style="left:134px;top:323px;width:18px;"><span class="u">1</span></div>
<div class="r d fw" style="left:153px;top:323px;width:18px;"><span class="u">2</span></div>
<div class="r d fw" style="left:172px;top:323px;width:31px;letter-spacing:-0.200px;"><span class="u">5.06</span></div>
<div class="r d fw" style="left:204px;top:323px;width:20px;"><span class="u">4</span></div>
<div class="r d fw" style="left:225px;top:323px;width:20px;"><span class="u">4</span></div>
<div class="r d fw" style="left:246px;top:323px;width:20px;"><span class="u">0</span></div>
<div class="r d fw" style="left:267px;top:323px;width:36px;letter-spacing:-0.120px;"><span class="u">16</span></div>
<div class="r d fw" style="left:304px;top:323px;width:20px;"><span class="u">9</span></div>
<div class="r d fw" style="left:325px;top:323px;width:24px;letter-spacing:-0.120px;"><span class="u">13</span></div>
<div class="c p fo" style="left:350px;top:323px;width:17px;"></div>
<div class="c p fo" style="left:368px;top:323px;width:17px;"><span class="u" style="transform:translateY(-0.20px) rotate(.1deg)">RP</span></div>
<div class="l d fb" style="left:386px;top:323px;width:84px;font-size:12.4px;letter-spacing:-0.013px;"><span class="u">Jarlin Garcia*</span></div>
<div class="r d fb" style="left:471px;top:323px;width:18px;letter-spacing:-0.120px;"><span class="u">27</span></div>
<div class="r d fb" style="left:490px;top:323px;width:18px;"><span class="u">4</span></div>
<div class="r d fb" style="left:509px;top:323px;width:18px;"><span class="u">2</span></div>
<div class="r d fb" style="left:528px;top:323px;width:31px;letter-spacing:-0.200px;"><span class="u">3.02</span></div>
<div class="r d fb" style="left:560px;top:323px;width:20px;letter-spacing:-0.120px;"><span class="u">53</span></div>
<div class="r d fb" style="left:581px;top:323px;width:20px;"><span class="u">0</span></div>
<div class="r d fb" style="left:602px;top:323px;width:20px;"><span class="u">0</span></div>
<div class="r d fb" style="left:623px;top:323px;width:36px;letter-spacing:-0.200px;"><span class="u">50.2</span></div>
<div class="r d fb" style="left:660px;top:323px;width:20px;letter-spacing:-0.120px;"><span class="u">16</span></div>
<div class="r d fb" style="left:681px;top:323px;width:24px;letter-spacing:-0.120px;"><span class="u">39</span></div>
<div class="l t" style="left:708.3px;top:323px;width:26px;padding-left:0;"><span class="u">MIA</span></div>
<div class="l d fw" style="left:30px;top:344px;width:84px;font-size:12.4px;letter-spacing:-0.005px;"><span class="u">Logan Webb</span></div>
<div class="r d fw" style="left:115px;top:344px;width:18px;letter-spacing:-0.120px;"><span class="u">22</span></div>
<div class="r d fw" style="left:134px;top:344px;width:18px;"><span class="u">2</span></div>
<div class="r d fw" style="left:153px;top:344px;width:18px;"><span class="u">3</span></div>
<div class="r d fw" style="left:172px;top:344px;width:31px;letter-spacing:-0.200px;"><span class="u">5.22</span></div>
<div class="r d fw" style="left:204px;top:344px;width:20px;"><span class="u">8</span></div>
<div class="r d fw" style="left:225px;top:344px;width:20px;"><span class="u">8</span></div>
<div class="r d fw" style="left:246px;top:344px;width:20px;"><span class="u">0</span></div>
<div class="r d fw" style="left:267px;top:344px;width:36px;letter-spacing:-0.200px;"><span class="u">39.2</span></div>
<div class="r d fw" style="left:304px;top:344px;width:20px;letter-spacing:-0.120px;"><span class="u">14</span></div>
<div class="r d fw" style="left:325px;top:344px;width:24px;letter-spacing:-0.120px;"><span class="u">37</span></div>
<div class="c p fo" style="left:350px;top:344px;width:17px;"></div>
<div class="c p fo" style="left:368px;top:344px;width:17px;"><span class="u" style="transform:translateY(-0.20px) rotate(.1deg)">RP</span></div>
<div class="l d fw" style="left:386px;top:344px;width:84px;font-size:12.4px;letter-spacing:-0.049px;"><span class="u">Nick Vincent</span></div>
<div class="r d fw" style="left:471px;top:344px;width:18px;letter-spacing:-0.120px;"><span class="u">33</span></div>
<div class="r d fw" style="left:490px;top:344px;width:18px;"><span class="u">0</span></div>
<div class="r d fw" style="left:509px;top:344px;width:18px;"><span class="u">2</span></div>
<div class="r d fw" style="left:528px;top:344px;width:31px;letter-spacing:-0.200px;"><span class="u">5.58</span></div>
<div class="r d fw" style="left:560px;top:344px;width:20px;letter-spacing:-0.120px;"><span class="u">18</span></div>
<div class="r d fw" style="left:581px;top:344px;width:20px;"><span class="u">1</span></div>
<div class="r d fw" style="left:602px;top:344px;width:20px;"><span class="u">0</span></div>
<div class="r d fw" style="left:623px;top:344px;width:36px;letter-spacing:-0.200px;"><span class="u">30.2</span></div>
<div class="r d fw" style="left:660px;top:344px;width:20px;"><span class="u">8</span></div>
<div class="r d fw" style="left:681px;top:344px;width:24px;letter-spacing:-0.120px;"><span class="u">30</span></div>
<div class="l d k fw" style="left:30px;top:365px;width:84px;font-size:10.5px;letter-spacing:0.194px;"><span class="u" style="transform:translateY(0.30px) rotate(.1deg)">Andrew Suarez*</span></div>
<div class="r d fw" style="left:115px;top:365px;width:18px;letter-spacing:-0.120px;"><span class="u">26</span></div>
<div class="r d fw" style="left:134px;top:365px;width:18px;"><span class="u">0</span></div>
<div class="r d fw" style="left:153px;top:365px;width:18px;"><span class="u">2</span></div>
<div class="r d fw" style="left:172px;top:365px;width:31px;letter-spacing:-0.200px;"><span class="u">5.79</span></div>
<div class="r d fw" style="left:204px;top:365px;width:20px;letter-spacing:-0.120px;"><span class="u">21</span></div>
<div class="r d fw" style="left:225px;top:365px;width:20px;"><span class="u">2</span></div>
<div class="r d fw" style="left:246px;top:365px;width:20px;"><span class="u">0</span></div>
<div class="r d fw" style="left:267px;top:365px;width:36px;letter-spacing:-0.200px;"><span class="u">32.2</span></div>
<div class="r d fw" style="left:304px;top:365px;width:20px;letter-spacing:-0.120px;"><span class="u">14</span></div>
<div class="r d fw" style="left:325px;top:365px;width:24px;letter-spacing:-0.120px;"><span class="u">25</span></div>
<div class="c p fo" style="left:350px;top:365px;width:17px;"></div>
<div class="c p fo" style="left:368px;top:365px;width:17px;"><span class="u" style="transform:translateY(-0.20px) rotate(.1deg)">RP</span></div>
<div class="l d fb" style="left:386px;top:365px;width:84px;font-size:12.4px;letter-spacing:-0.037px;"><span class="u">Tyson Ross</span></div>
<div class="r d fb" style="left:471px;top:365px;width:18px;letter-spacing:-0.120px;"><span class="u">33</span></div>
<div class="r d fb" style="left:490px;top:365px;width:18px;"><span class="u">1</span></div>
<div class="r d fb" style="left:509px;top:365px;width:18px;"><span class="u">5</span></div>
<div class="r d fb" style="left:528px;top:365px;width:31px;letter-spacing:-0.200px;"><span class="u">6.11</span></div>
<div class="r d fb" style="left:560px;top:365px;width:20px;"><span class="u">7</span></div>
<div class="r d fb" style="left:581px;top:365px;width:20px;"><span class="u">7</span></div>
<div class="r d fb" style="left:602px;top:365px;width:20px;"><span class="u">0</span></div>
<div class="r d fb" style="left:623px;top:365px;width:36px;letter-spacing:-0.200px;"><span class="u">35.1</span></div>
<div class="r d fb" style="left:660px;top:365px;width:20px;letter-spacing:-0.120px;"><span class="u">18</span></div>
<div class="r d fb" style="left:681px;top:365px;width:24px;letter-spacing:-0.120px;"><span class="u">25</span></div>
<div class="l t" style="left:708.3px;top:365px;width:26px;padding-left:0;"><span class="u">DET</span></div>
<div class="l d k fw" style="left:30px;top:386px;width:84px;font-size:10.5px;letter-spacing:0.195px;"><span class="u" style="transform:translateY(0.20px) rotate(.1deg)">Wandy Peralta*</span></div>
<div class="r d fw" style="left:115px;top:386px;width:18px;letter-spacing:-0.120px;"><span class="u">27</span></div>
<div class="r d fw" style="left:134px;top:386px;width:18px;"><span class="u">0</span></div>
<div class="r d fw" style="left:153px;top:386px;width:18px;"><span class="u">0</span></div>
<div class="r d fw" style="left:172px;top:386px;width:31px;letter-spacing:-0.200px;"><span class="u">3.18</span></div>
<div class="r d fw" style="left:204px;top:386px;width:20px;"><span class="u">8</span></div>
<div class="r d fw" style="left:225px;top:386px;width:20px;"><span class="u">0</span></div>
<div class="r d fw" style="left:246px;top:386px;width:20px;"><span class="u">0</span></div>
<div class="r d fw" style="left:267px;top:386px;width:36px;letter-spacing:-0.120px;"><span class="u">5.2</span></div>
<div class="r d fw" style="left:304px;top:386px;width:20px;"><span class="u">1</span></div>
<div class="r d fw" style="left:325px;top:386px;width:24px;"><span class="u">5</span></div>
<div class="c p fo" style="left:350px;top:386px;width:17px;"></div>
<div class="c p fo" style="left:368px;top:386px;width:17px;"><span class="u" style="transform:translateY(-0.20px) rotate(.1deg)">RP</span></div>
<div class="l d k fw" style="left:386px;top:386px;width:84px;font-size:9.0px;letter-spacing:0.185px;"><span class="u">Dereck Rodriguez</span></div>
<div class="r d fw" style="left:471px;top:386px;width:18px;letter-spacing:-0.120px;"><span class="u">28</span></div>
<div class="r d fw" style="left:490px;top:386px;width:18px;"><span class="u">6</span></div>
<div class="r d fw" style="left:509px;top:386px;width:18px;letter-spacing:-0.120px;"><span class="u">11</span></div>
<div class="r d fw" style="left:528px;top:386px;width:31px;letter-spacing:-0.200px;"><span class="u">5.64</span></div>
<div class="r d fw" style="left:560px;top:386px;width:20px;letter-spacing:-0.120px;"><span class="u">28</span></div>
<div class="r d fw" style="left:581px;top:386px;width:20px;letter-spacing:-0.120px;"><span class="u">16</span></div>
<div class="r d fw" style="left:602px;top:386px;width:20px;"><span class="u">0</span></div>
<div class="r d fw" style="left:623px;top:386px;width:36px;letter-spacing:-0.120px;"><span class="u">99</span></div>
<div class="r d fw" style="left:660px;top:386px;width:20px;letter-spacing:-0.120px;"><span class="u">36</span></div>
<div class="r d fw" style="left:681px;top:386px;width:24px;letter-spacing:-0.120px;"><span class="u">71</span></div>
<div class="l d fw" style="left:30px;top:407px;width:84px;font-size:12.4px;letter-spacing:0.025px;"><span class="u">Sam Coonrod</span></div>
<div class="r d fw" style="left:115px;top:407px;width:18px;letter-spacing:-0.120px;"><span class="u">26</span></div>
<div class="r d fw" style="left:134px;top:407px;width:18px;"><span class="u">5</span></div>
<div class="r d fw" style="left:153px;top:407px;width:18px;"><span class="u">1</span></div>
<div class="r d fw" style="left:172px;top:407px;width:31px;letter-spacing:-0.200px;"><span class="u">3.58</span></div>
<div class="r d fw" style="left:204px;top:407px;width:20px;letter-spacing:-0.120px;"><span class="u">33</span></div>
<div class="r d fw" style="left:225px;top:407px;width:20px;"><span class="u">0</span></div>
<div class="r d fw" style="left:246px;top:407px;width:20px;"><span class="u">0</span></div>
<div class="r d fw" style="left:267px;top:407px;width:36px;letter-spacing:-0.200px;"><span class="u">27.2</span></div>
<div class="r d fw" style="left:304px;top:407px;width:20px;letter-spacing:-0.120px;"><span class="u">15</span></div>
<div class="r d fw" style="left:325px;top:407px;width:24px;letter-spacing:-0.120px;"><span class="u">20</span></div>
<div class="c p fo" style="left:350px;top:407px;width:17px;"></div>
<div class="c p fo" style="left:368px;top:407px;width:17px;"><span class="u" style="transform:translateY(-0.20px) rotate(.1deg)">RP</span></div>
<div class="l d fb" style="left:386px;top:407px;width:84px;font-size:12.4px;letter-spacing:-0.063px;"><span class="u">Rico Garcia</span></div>
<div class="r d fb" style="left:471px;top:407px;width:18px;letter-spacing:-0.120px;"><span class="u">26</span></div>
<div class="r d fb" style="left:490px;top:407px;width:18px;"><span class="u">0</span></div>
<div class="r d fb" style="left:509px;top:407px;width:18px;"><span class="u">1</span></div>
<div class="r d fb" style="left:528px;top:407px;width:31px;font-size:10.3px;letter-spacing:0.450px;padding-right:1.5px;"><span class="u">10.50</span></div>
<div class="r d fb" style="left:560px;top:407px;width:20px;"><span class="u">2</span></div>
<div class="r d fb" style="left:581px;top:407px;width:20px;"><span class="u">1</span></div>
<div class="r d fb" style="left:602px;top:407px;width:20px;"><span class="u">0</span></div>
<div class="r d fb" style="left:623px;top:407px;width:36px;"><span class="u">6</span></div>
<div class="r d fb" style="left:660px;top:407px;width:20px;"><span class="u">5</span></div>
<div class="r d fb" style="left:681px;top:407px;width:24px;"><span class="u">2</span></div>
<div class="l t" style="left:708.3px;top:407px;width:26px;font-size:10.9px;letter-spacing:-0.250px;padding-left:0;"><span class="u" style="transform:translateY(0.00px) rotate(.1deg)">COL</span></div>
<div class="l d fw" style="left:30px;top:428px;width:84px;font-size:12.4px;letter-spacing:-0.041px;"><span class="u">Tyler Rogers</span></div>
<div class="r d fw" style="left:115px;top:428px;width:18px;letter-spacing:-0.120px;"><span class="u">28</span></div>
<div class="r d fw" style="left:134px;top:428px;width:18px;"><span class="u">2</span></div>
<div class="r d fw" style="left:153px;top:428px;width:18px;"><span class="u">0</span></div>
<div class="r d fw" style="left:172px;top:428px;width:31px;letter-spacing:-0.200px;"><span class="u">1.02</span></div>
<div class="r d fw" style="left:204px;top:428px;width:20px;letter-spacing:-0.120px;"><span class="u">17</span></div>
<div class="r d fw" style="left:225px;top:428px;width:20px;"><span class="u">0</span></div>
<div class="r d fw" style="left:246px;top:428px;width:20px;"><span class="u">0</span></div>
<div class="r d fw" style="left:267px;top:428px;width:36px;letter-spacing:-0.200px;"><span class="u">17.2</span></div>
<div class="r d fw" style="left:304px;top:428px;width:20px;"><span class="u">3</span></div>
<div class="r d fw" style="left:325px;top:428px;width:24px;letter-spacing:-0.120px;"><span class="u">16</span></div>
<div class="c p fo" style="left:350px;top:428px;width:17px;"></div>
<div class="c p fo" style="left:368px;top:428px;width:17px;"><span class="u" style="transform:translateY(-0.20px) rotate(.1deg)">SP</span></div>
<div class="l d fw" style="left:386px;top:428px;width:84px;font-size:12.4px;letter-spacing:-0.013px;"><span class="u">Tyler Beede</span></div>
<div class="r d fw" style="left:471px;top:428px;width:18px;letter-spacing:-0.120px;"><span class="u">27</span></div>
<div class="r d fw" style="left:490px;top:428px;width:18px;"><span class="u">5</span></div>
<div class="r d fw" style="left:509px;top:428px;width:18px;letter-spacing:-0.120px;"><span class="u">10</span></div>
<div class="r d fw" style="left:528px;top:428px;width:31px;letter-spacing:-0.200px;"><span class="u">5.08</span></div>
<div class="r d fw" style="left:560px;top:428px;width:20px;letter-spacing:-0.120px;"><span class="u">24</span></div>
<div class="r d fw" style="left:581px;top:428px;width:20px;letter-spacing:-0.120px;"><span class="u">22</span></div>
<div class="r d fw" style="left:602px;top:428px;width:20px;"><span class="u">0</span></div>
<div class="r d fw" style="left:623px;top:428px;width:36px;letter-spacing:-0.120px;"><span class="u">117</span></div>
<div class="r d fw" style="left:660px;top:428px;width:20px;letter-spacing:-0.120px;"><span class="u">46</span></div>
<div class="r d fw" style="left:681px;top:428px;width:24px;font-size:10.9px;letter-spacing:0.100px;"><span class="u">113</span></div>
<div class="l d fw" style="left:30px;top:449px;width:84px;font-size:12.4px;letter-spacing:-0.049px;"><span class="u">Nick Vincent</span></div>
<div class="r d fw" style="left:115px;top:449px;width:18px;letter-spacing:-0.120px;"><span class="u">32</span></div>
<div class="r d fw" style="left:134px;top:449px;width:18px;"><span class="u">0</span></div>
<div class="r d fw" style="left:153px;top:449px;width:18px;"><span class="u">2</span></div>
<div class="r d fw" style="left:172px;top:449px;width:31px;letter-spacing:-0.200px;"><span class="u">5.58</span></div>
<div class="r d fw" style="left:204px;top:449px;width:20px;letter-spacing:-0.120px;"><span class="u">18</span></div>
<div class="r d fw" style="left:225px;top:449px;width:20px;"><span class="u">1</span></div>
<div class="r d fw" style="left:246px;top:449px;width:20px;"><span class="u">0</span></div>
<div class="r d fw" style="left:267px;top:449px;width:36px;letter-spacing:-0.200px;"><span class="u">30.2</span></div>
<div class="r d fw" style="left:304px;top:449px;width:20px;"><span class="u">8</span></div>
<div class="r d fw" style="left:325px;top:449px;width:24px;letter-spacing:-0.120px;"><span class="u">30</span></div>
<div class="c p fo" style="left:350px;top:449px;width:17px;"></div>
<div class="c p fo" style="left:368px;top:449px;width:17px;"><span class="u" style="transform:translateY(-0.20px) rotate(.1deg)">RP</span></div>
<div class="l d k fy" style="left:386px;top:449px;width:84px;font-size:10.7px;letter-spacing:0.226px;"><span class="u" style="transform:translateY(-0.10px) rotate(.1deg)">Reyes Moronta</span></div>
<div class="r d fy" style="left:471px;top:449px;width:18px;letter-spacing:-0.120px;"><span class="u">27</span></div>
<div class="r d fy" style="left:490px;top:449px;width:18px;"><span class="u">3</span></div>
<div class="r d fy" style="left:509px;top:449px;width:18px;"><span class="u">7</span></div>
<div class="r d fy" style="left:528px;top:449px;width:31px;letter-spacing:-0.200px;"><span class="u">2.86</span></div>
<div class="r d fy" style="left:560px;top:449px;width:20px;letter-spacing:-0.120px;"><span class="u">56</span></div>
<div class="r d fy" style="left:581px;top:449px;width:20px;"><span class="u">0</span></div>
<div class="r d fy" style="left:602px;top:449px;width:20px;"><span class="u">0</span></div>
<div class="r d fy" style="left:623px;top:449px;width:36px;letter-spacing:-0.200px;"><span class="u">56.2</span></div>
<div class="r d fy" style="left:660px;top:449px;width:20px;letter-spacing:-0.120px;"><span class="u">33</span></div>
<div class="r d fy" style="left:681px;top:449px;width:24px;letter-spacing:-0.120px;"><span class="u">70</span></div>
<div style="left:29px;top:154px;width:321px;height:1px;background:#1a1a1a;"></div>
<div style="left:385px;top:217px;width:321px;height:1px;background:#1a1a1a;"></div>
<div class="c d j" style="left:30px;top:470px;width:84px;background:#FCE4D6;"><span class="u" style="transform:translateY(0.20px) rotate(.1deg)">退団</span></div>
<div class="c d j" style="left:385px;top:470px;width:85px;background:#D9E1F2;padding-left:1px;"><span class="u" style="transform:translateY(0.20px) rotate(.1deg)">新加入</span></div>
<div class="c d" style="left:385px;top:490px;width:85px;height:21px;background:#FFF2CC;padding-left:1px;"><span class="u" style="transform:translateY(1.00px) rotate(.1deg)">IL</span></div>
</div>
</body></html>
